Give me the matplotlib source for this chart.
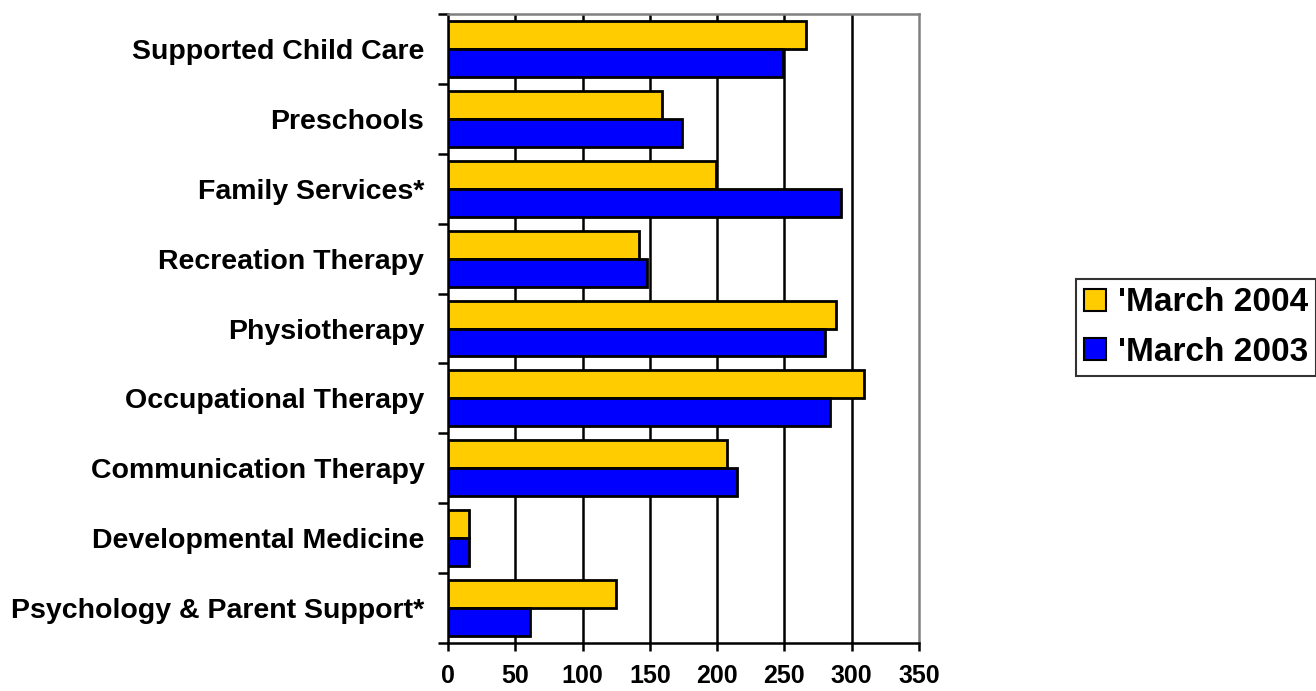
import matplotlib.pyplot as plt
import matplotlib.patches as mpatches
import numpy as np

# Données
categories = [
    "Supported Child Care",
    "Preschools",
    "Family Services*",
    "Recreation Therapy",
    "Physiotherapy",
    "Occupational Therapy",
    "Communication Therapy",
    "Developmental Medicine",
    "Psychology & Parent Support*",
]
march_2004 = [266, 159, 199, 142, 288, 309, 207, 16, 125]
march_2003 = [249, 174, 292, 148, 280, 284, 215, 16, 61]
series_labels = ["'March 2004", "'March 2003"]
x_ticks = [0, 50, 100, 150, 200, 250, 300, 350]

plt.rcParams["font.family"] = ["Liberation Sans", "DejaVu Sans"]
plt.rcParams["font.weight"] = "bold"

fig = plt.figure(figsize=(13.16, 6.91), dpi=100)
ax = fig.add_axes([0.3404, 0.0695, 0.3579, 0.9102])

pos = np.arange(len(categories))
h = 0.4
ax.barh(pos - h / 2, march_2004, height=h, color="#FFCC00",
        edgecolor="black", linewidth=2, zorder=3)
ax.barh(pos + h / 2, march_2003, height=h, color="#0000FF",
        edgecolor="black", linewidth=2, zorder=3)

ax.set_xlim(0, 350)
ax.set_ylim(len(categories) - 0.5, -0.5)

# ── Grille verticale ──────────────────────────────────────────────────────
for v in x_ticks[1:-1]:
    ax.axvline(v, color="black", linewidth=1.8, zorder=1)

# ── Axes ──────────────────────────────────────────────────────────────────
ax.set_xticks(x_ticks)
ax.set_xticklabels([str(v) for v in x_ticks], fontsize=18, fontweight="bold")
ax.tick_params(axis="x", direction="out", length=6, width=1.8, pad=9)

ax.set_yticks(pos)
ax.set_yticklabels(categories, fontsize=20.5, fontweight="bold")
ax.tick_params(axis="y", which="major", length=0, pad=17)
ax.set_yticks(np.arange(len(categories) + 1) - 0.5, minor=True)
ax.tick_params(axis="y", which="minor", direction="out", length=7, width=1.8)

ax.spines["left"].set_linewidth(1.8)
ax.spines["bottom"].set_linewidth(1.8)
ax.spines["top"].set_color("#808080")
ax.spines["right"].set_color("#808080")
ax.spines["top"].set_linewidth(1.8)
ax.spines["right"].set_linewidth(1.8)

# ── Légende ───────────────────────────────────────────────────────────────
handles = [
    mpatches.Patch(facecolor="#FFCC00", edgecolor="black", linewidth=1.5),
    mpatches.Patch(facecolor="#0000FF", edgecolor="black", linewidth=1.5),
]
leg = fig.legend(handles, series_labels, loc="center left",
                 bbox_to_anchor=(0.8176, 0.526),
                 prop={"weight": "bold", "size": 24},
                 handlelength=0.65, handleheight=0.65, handletextpad=0.35,
                 borderpad=0.25, labelspacing=0.55, borderaxespad=0,
                 fancybox=False, frameon=True)
leg.get_frame().set_edgecolor("black")
leg.get_frame().set_linewidth(1.5)

fig.savefig("out.png", dpi=100)
